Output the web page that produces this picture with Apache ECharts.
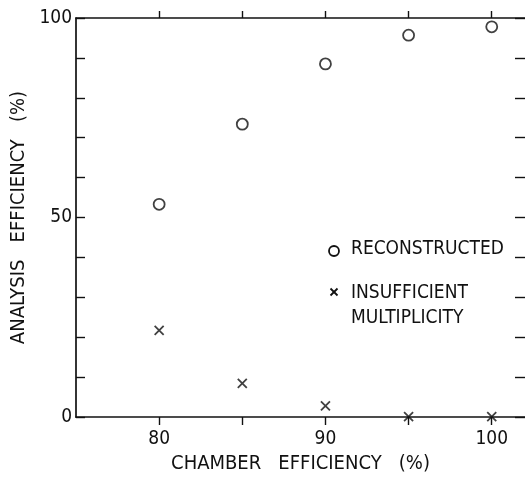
<!DOCTYPE html>
<html>
<head>
<meta charset="utf-8">
<script src="https://cdn.jsdelivr.net/npm/echarts@6/dist/echarts.min.js"></script>
<style>
  html, body { margin: 0; padding: 0; background: #fff; }
  #chart { width: 525px; height: 480px; }
</style>
</head>
<body>
<div id="chart"></div>
<script>
// Chamber efficiency (%) on the x axis
const chamberEff = [80, 85, 90, 95, 100];
// Fraction of events reconstructed (%)
const reconstructed = [53.3, 73.4, 88.5, 95.7, 97.8];
// Fraction rejected for insufficient multiplicity (%)
const insufficient = [21.7, 8.4, 2.8, 0.1, 0.1];
// Labelled ticks
const xTickLabels = [80, 90, 100];
const yTickLabels = [0, 50, 100];

const FONT = '"DejaVu Sans Condensed", "Liberation Sans", sans-serif';
const INK = '#111';
const CROSS = 'path://M0,0 L10,10 M10,0 L0,10';

const chart = echarts.init(document.getElementById('chart'), null, { renderer: 'canvas' });

const axisLine = { show: true, onZero: false, lineStyle: { color: INK, width: 1.7 } };

chart.setOption({
  animation: false,
  backgroundColor: '#fff',
  grid: { left: 76, right: 0, top: 18, bottom: 63, containLabel: false },
  xAxis: [
    {
      type: 'value', position: 'bottom', min: 75, max: 102, interval: 5,
      axisLine: axisLine,
      axisTick: { show: true, inside: false, length: 8, lineStyle: { color: INK, width: 1.4 },
                  customValues: chamberEff },
      axisLabel: { show: true, margin: 13, color: INK, fontFamily: FONT, fontSize: 19,
                   customValues: xTickLabels },
      splitLine: { show: false },
      name: 'CHAMBER   EFFICIENCY   (%)', nameLocation: 'middle', nameGap: 37,
      nameTextStyle: { color: INK, fontFamily: FONT, fontSize: 20 }
    },
    {
      type: 'value', position: 'top', min: 75, max: 102, interval: 5,
      axisLine: axisLine,
      axisTick: { show: true, inside: false, length: 7, lineStyle: { color: INK, width: 1.4 },
                  customValues: chamberEff },
      axisLabel: { show: false },
      splitLine: { show: false }
    }
  ],
  yAxis: [
    {
      type: 'value', position: 'left', min: 0, max: 100, interval: 10,
      axisLine: axisLine,
      axisTick: { show: true, inside: true, length: 9, lineStyle: { color: INK, width: 1.4 } },
      axisLabel: { show: true, margin: 4, color: INK, fontFamily: FONT, fontSize: 19,
                   customValues: yTickLabels },
      splitLine: { show: false },
      name: 'ANALYSIS   EFFICIENCY   (%)', nameLocation: 'middle', nameGap: 47, nameRotate: 90,
      nameTextStyle: { color: INK, fontFamily: FONT, fontSize: 20 }
    },
    {
      type: 'value', position: 'right', min: 0, max: 100, interval: 10,
      axisLine: { show: false },
      axisTick: { show: true, inside: true, length: 10, lineStyle: { color: INK, width: 1.4 } },
      axisLabel: { show: false },
      splitLine: { show: false }
    }
  ],
  series: [
    {
      name: 'RECONSTRUCTED', type: 'scatter',
      data: chamberEff.map((x, i) => [x, reconstructed[i]]),
      symbol: 'circle', symbolSize: 11,
      itemStyle: { color: 'rgba(0,0,0,0)', borderColor: INK, borderWidth: 1.8 }
    },
    {
      name: 'INSUFFICIENT MULTIPLICITY', type: 'scatter',
      data: chamberEff.map((x, i) => [x, insufficient[i]]),
      symbol: CROSS, symbolSize: 9,
      itemStyle: { color: 'rgba(0,0,0,0)', borderColor: INK, borderWidth: 1.8 }
    }
  ],
  graphic: [
    { type: 'circle', shape: { cx: 334, cy: 251, r: 5 },
      style: { fill: 'none', stroke: INK, lineWidth: 1.8 } },
    { type: 'text', left: 351, top: 240,
      style: { text: 'RECONSTRUCTED', fill: INK, font: '19px ' + FONT } },
    { type: 'group', x: 334, y: 292, children: [
      { type: 'line', shape: { x1: -3.5, y1: -3.5, x2: 3.5, y2: 3.5 }, style: { stroke: INK, lineWidth: 1.8 } },
      { type: 'line', shape: { x1: 3.5, y1: -3.5, x2: -3.5, y2: 3.5 }, style: { stroke: INK, lineWidth: 1.8 } }
    ] },
    { type: 'text', left: 351, top: 281,
      style: { text: 'INSUFFICIENT\nMULTIPLICITY', fill: INK, font: '19px ' + FONT, lineHeight: 25 } }
  ]
});
</script>
</body>
</html>
